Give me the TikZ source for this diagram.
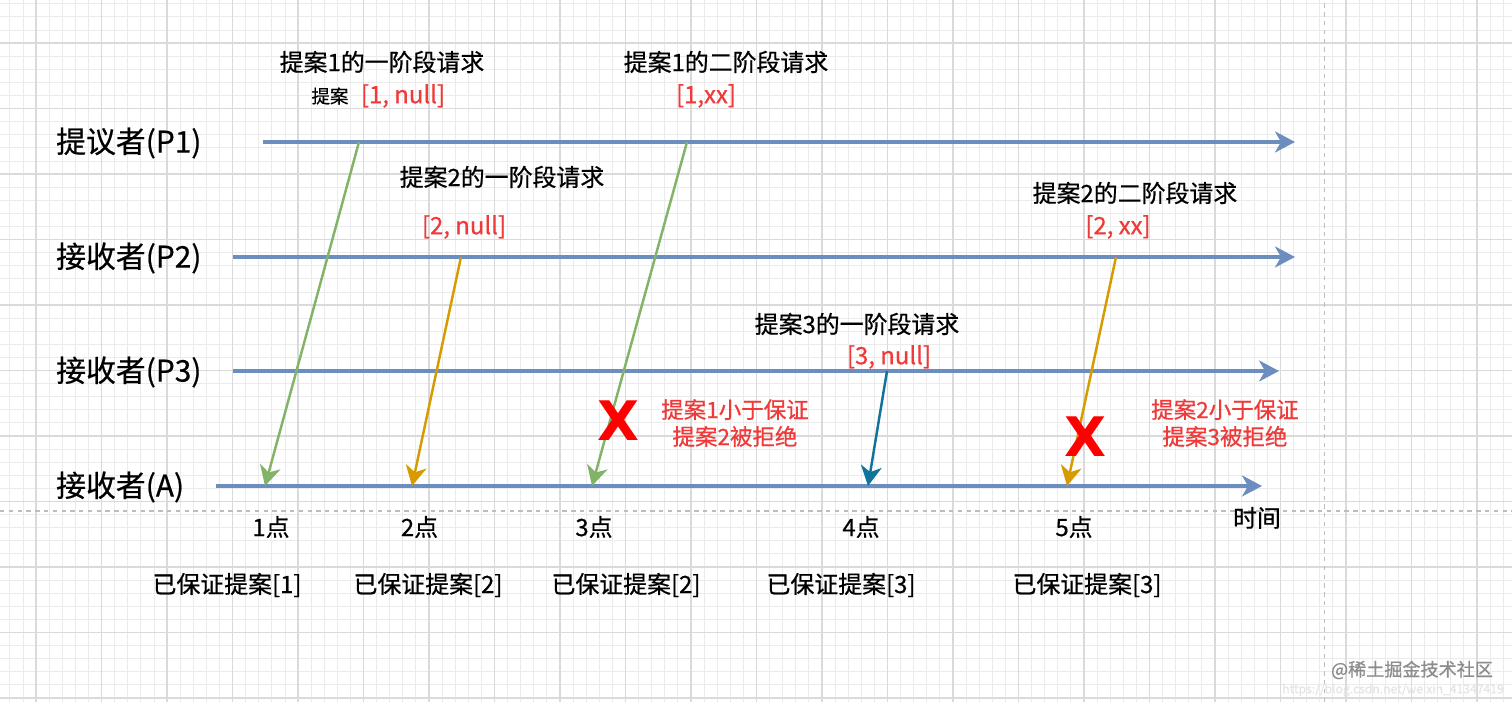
\documentclass[tikz,border=0pt]{standalone}
\usepackage{fontspec}
\setmainfont{Noto Sans CJK SC}[UprightFeatures={FakeBold=0.6}]
\newfontfamily\crossfont{DejaVu Sans}
\usetikzlibrary{%
  arrows.meta,%
  positioning% wg. " of "
}
\definecolor{lineblue}{HTML}{6C8EBF}
\definecolor{msggreen}{HTML}{82B366}
\definecolor{msgorange}{HTML}{D79B00}
\definecolor{msgteal}{HTML}{10739E}
\definecolor{notered}{HTML}{F03A3A}
\definecolor{gridminor}{HTML}{EBEBEB}
\definecolor{gridmajor}{HTML}{DADADA}
\definecolor{guidegray}{HTML}{BDBDBD}

\begin{document}
\begin{tikzpicture}
[font=\fontsize{13.6pt}{16pt}\selectfont, line width=1.3pt, >={Stealth[length=4mm, width=4.2mm, inset=1.2mm]},
tline/.style={->, draw=lineblue, line width=1.8pt},
msg/.style={->, line width=1.4pt},
role/.style={anchor=west, inner sep=0pt, font=\fontsize{17pt}{20pt}\selectfont},
title/.style={inner sep=0pt},
small/.style={inner sep=0pt, font=\fontsize{10.5pt}{12pt}\selectfont},
val/.style={inner sep=0pt, text=notered},
note/.style={inner sep=0pt, text=notered, align=center, font=\fontsize{12.8pt}{15.3pt}\selectfont},
cross/.style={inner sep=0pt, text=red, font=\crossfont\bfseries\fontsize{31pt}{34pt}\selectfont},
tick/.style={inner sep=0pt},
guide/.style={draw=guidegray, line width=0.6pt, dash pattern=on 2.5pt off 2.5pt},
wmark/.style={inner sep=0pt, font=\fontsize{10.3pt}{12pt}\selectfont}]

\useasboundingbox (0,0) rectangle (30.24,14.04);
\fill[white] (0,0) rectangle (30.24,14.04);
\clip (0,0) rectangle (30.24,14.04);

\begin{scope}[shift={(0.72,0.08)}]
\draw[gridminor, line width=0.45pt, step=0.262] (-1,-1) grid (30,14);
\draw[gridmajor, line width=0.6pt, step=1.31] (-1,-1) grid (30,14);
\end{scope}

\draw[guide] (0,3.82) -- (30.24,3.82);
\draw[guide] (26.49,0) -- (26.49,14.04);

\node[role] (rp1) at (1.10,11.18) {提议者(P1)};
\node[role] (rp2) at (1.10,8.88) {接收者(P2)};
\node[role] (rp3) at (1.10,6.60) {接收者(P3)};
\node[role] (ra) at (1.10,4.30) {接收者(A)};

\coordinate (p1a) at (5.26,11.20);
\coordinate (p1b) at (25.90,11.20);
\coordinate (p2a) at (4.66,8.90);
\coordinate (p2b) at (25.90,8.90);
\coordinate (p3a) at (4.66,6.62);
\coordinate (p3b) at (25.58,6.62);
\coordinate (aa) at (4.32,4.32);
\coordinate (ab) at (25.24,4.32);

\draw[tline] (p1a) -- (p1b);
\draw[tline] (p2a) -- (p2b);
\draw[tline] (p3a) -- (p3b);
\draw[tline] (aa) -- (ab);

\coordinate (s1) at (7.18,11.20);
\coordinate (e1) at (5.30,4.32);
\coordinate (s2) at (9.22,8.90);
\coordinate (e2) at (8.24,4.32);
\coordinate (s3) at (13.74,11.20);
\coordinate (e3) at (11.84,4.32);
\coordinate (s4) at (17.74,6.62);
\coordinate (e4) at (17.36,4.32);
\coordinate (s5) at (22.32,8.90);
\coordinate (e5) at (21.34,4.32);

\draw[msg, msggreen] (s1) -- (e1);
\draw[msg, msgorange] (s2) -- (e2);
\draw[msg, msggreen] (s3) -- (e3);
\draw[msg, msgteal] (s4) -- (e4);
\draw[msg, msgorange] (s5) -- (e5);

\node[title] (t1) at (7.64,12.80) {提案1的一阶段请求};
\node[small] (t1a) at (6.60,12.12) {提案};
\node[val] (v1) at (8.06,12.12) {[1, null]};
\node[title] (t2) at (14.52,12.80) {提案1的二阶段请求};
\node[val] (v2) at (14.12,12.12) {[1,xx]};
\node[title] (t3) at (10.04,10.50) {提案2的一阶段请求};
\node[val] (v3) at (9.28,9.50) {[2, null]};
\node[title] (t4) at (22.70,10.18) {提案2的二阶段请求};
\node[val] (v4) at (22.36,9.50) {[2, xx]};
\node[title] (t5) at (17.14,7.56) {提案3的一阶段请求};
\node[val] (v5) at (17.78,6.90) {[3, null]};

\node[cross] (x1) at (12.36,5.62) {X};
\node[cross] (x2) at (21.70,5.30) {X};
\node[note] (n1) at (14.70,5.58) {提案1小于保证\\提案2被拒绝};
\node[note] (n2) at (24.50,5.58) {提案2小于保证\\提案3被拒绝};

\node[tick] (k1) at (5.42,3.50) {1点};
\node[tick] (k2) at (8.39,3.50) {2点};
\node[tick] (k3) at (11.88,3.50) {3点};
\node[tick] (k4) at (17.22,3.50) {4点};
\node[tick] (k5) at (21.48,3.50) {5点};
\node[tick] (time) at (25.14,3.68) {时间};

\node[tick] (g1) at (4.54,2.34) {已保证提案[1]};
\node[tick] (g2) at (8.56,2.34) {已保证提案[2]};
\node[tick] (g3) at (12.52,2.34) {已保证提案[2]};
\node[tick] (g4) at (16.82,2.34) {已保证提案[3]};
\node[tick] (g5) at (21.74,2.34) {已保证提案[3]};

\node[wmark, text=black!45] (wm) at (28.24,0.64) {@稀土掘金技术社区};
\node[wmark, text=black!10, font=\fontsize{6.9pt}{8pt}\selectfont] (url) at (27.86,0.24) {https://blog.csdn.net/weixin\_41347419};
\end{tikzpicture}
\end{document}
